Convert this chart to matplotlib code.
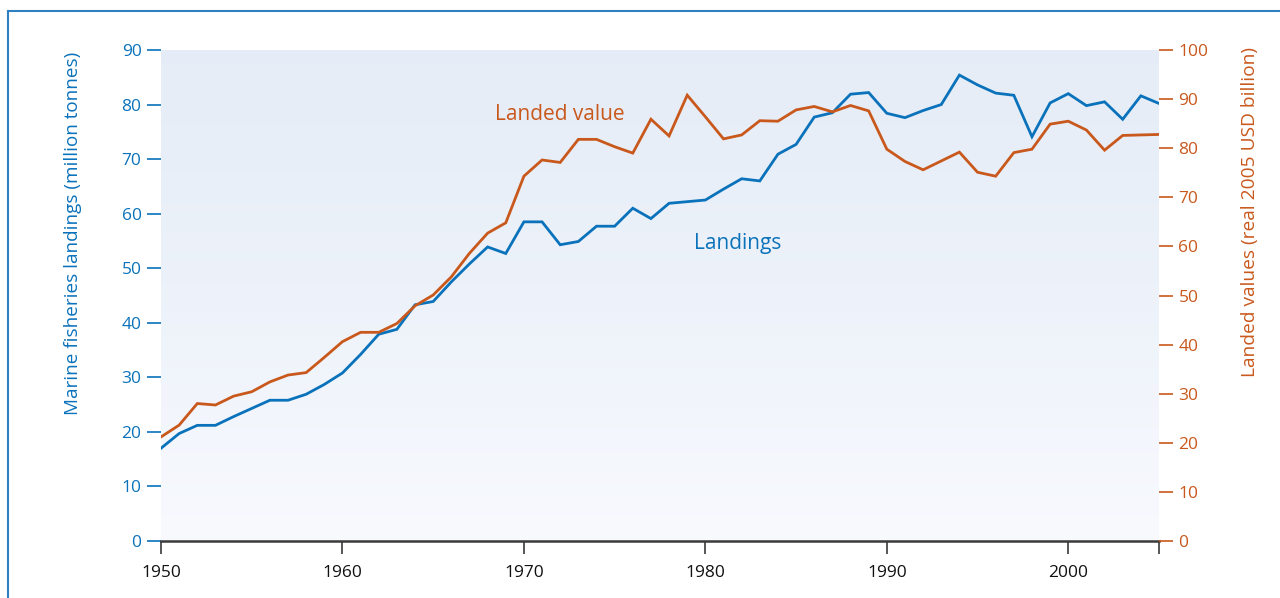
import numpy as np
import matplotlib
matplotlib.use("Agg")
from matplotlib import pyplot as plt
from matplotlib.lines import Line2D

plt.rcParams['font.family'] = ['Open Sans', 'DejaVu Sans']

# Data
years = list(range(1950, 2006))
landings = [17.0, 19.7, 21.2, 21.2, 22.8, 24.3, 25.8, 25.8, 26.9, 28.7,
            30.8, 34.2, 37.9, 38.8, 43.3, 43.9, 47.5, 50.8, 53.9, 52.7,
            58.5, 58.5, 54.3, 54.9, 57.7, 57.7, 61.0, 59.1, 61.9, 62.2,
            62.5, 64.5, 66.4, 66.0, 70.9, 72.7, 77.7, 78.5, 81.9, 82.2,
            78.4, 77.6, 78.9, 80.0, 85.4, 83.6, 82.1, 81.7, 74.1, 80.3,
            82.0, 79.8, 80.5, 77.3, 81.6, 80.2]
landed_value = [21.2, 23.6, 28.0, 27.7, 29.5, 30.4, 32.4, 33.8, 34.3, 37.4,
                40.6, 42.5, 42.5, 44.3, 47.9, 50.1, 53.8, 58.6, 62.7, 64.8,
                74.3, 77.6, 77.1, 81.8, 81.8, 80.3, 79.0, 85.9, 82.5, 90.8,
                86.4, 81.9, 82.7, 85.6, 85.5, 87.8, 88.5, 87.4, 88.7, 87.6,
                79.8, 77.3, 75.6, 77.4, 79.2, 75.1, 74.3, 79.1, 79.8, 84.9,
                85.5, 83.7, 79.6, 82.6, 82.7, 82.8]
x_ticks = [1950, 1960, 1970, 1980, 1990, 2000]
left_ticks = list(range(0, 91, 10))
right_ticks = list(range(0, 101, 10))

blue = '#0a72bb'
orange = '#c9581c'
axis_dark = '#3a3a3a'

fig = plt.figure(figsize=(12.8, 5.98), dpi=100)
ax = fig.add_axes([161 / 1280, 1 - 541 / 598, (1159 - 161) / 1280, (541 - 50) / 598])
ax2 = ax.twinx()

# gradient background
grad = np.linspace(0, 1, 256).reshape(-1, 1)
top_c = np.array([0.902, 0.929, 0.969])
bot_c = np.array([0.973, 0.980, 0.996])
img = top_c + (bot_c - top_c) * grad ** 1.3
ax.imshow(img[:, None, :].repeat(2, axis=1), extent=[1950, 2005, 0, 90],
          aspect='auto', origin='upper', zorder=0)

ax.plot(years, landings, color=blue, lw=2.0, zorder=3, solid_joinstyle='miter')
ax2.plot(years, landed_value, color=orange, lw=2.0, zorder=3, solid_joinstyle='miter')

ax.set_xlim(1950, 2005)
ax.set_ylim(0, 90)
ax2.set_ylim(0, 100)

ax.set_xticks(x_ticks + [2005])
ax.set_xticklabels([str(t) for t in x_ticks] + [''])
ax.set_yticks(left_ticks)
ax2.set_yticks(right_ticks)

for s in ['top', 'right', 'left']:
    ax.spines[s].set_visible(False)
    ax2.spines[s].set_visible(False)
ax2.spines['bottom'].set_visible(False)
ax.spines['bottom'].set_color(axis_dark)
ax.spines['bottom'].set_linewidth(1.8)

ax.tick_params(axis='x', direction='out', length=9, width=1.2, color=axis_dark,
               labelsize=12.5, labelcolor='#111111', pad=8)
ax.tick_params(axis='y', direction='out', length=10, width=1.2, color=blue,
               labelsize=12.5, labelcolor=blue, pad=4)
ax2.tick_params(axis='y', direction='out', length=10, width=1.2, color=orange,
                labelsize=12.5, labelcolor=orange, pad=4)

# axis titles placed where they sit in the original (not centred on the axes)
fig.text(73 / 1280, 1 - 233 / 598, 'Marine fisheries landings (million tonnes)',
         color=blue, fontsize=13.6, rotation=90, ha='center', va='center')
fig.text(1250 / 1280, 1 - 212 / 598, 'Landed values (real 2005 USD billion)',
         color=orange, fontsize=13.8, rotation=90, ha='center', va='center')

ax2.text(1972.0, 86.8, 'Landed value', color=orange, fontsize=15,
         ha='center', va='center')
ax.text(1981.8, 54.6, 'Landings', color=blue, fontsize=15,
        ha='center', va='center')

# frame lines (top and left)
frame_c = '#2f80c0'
fig.add_artist(Line2D([8 / 1280, 1], [1 - 11 / 598, 1 - 11 / 598],
                      transform=fig.transFigure, color=frame_c, lw=1.5))
fig.add_artist(Line2D([8 / 1280, 8 / 1280], [0, 1 - 11 / 598],
                      transform=fig.transFigure, color=frame_c, lw=1.5))

fig.savefig('out.png', dpi=100)
